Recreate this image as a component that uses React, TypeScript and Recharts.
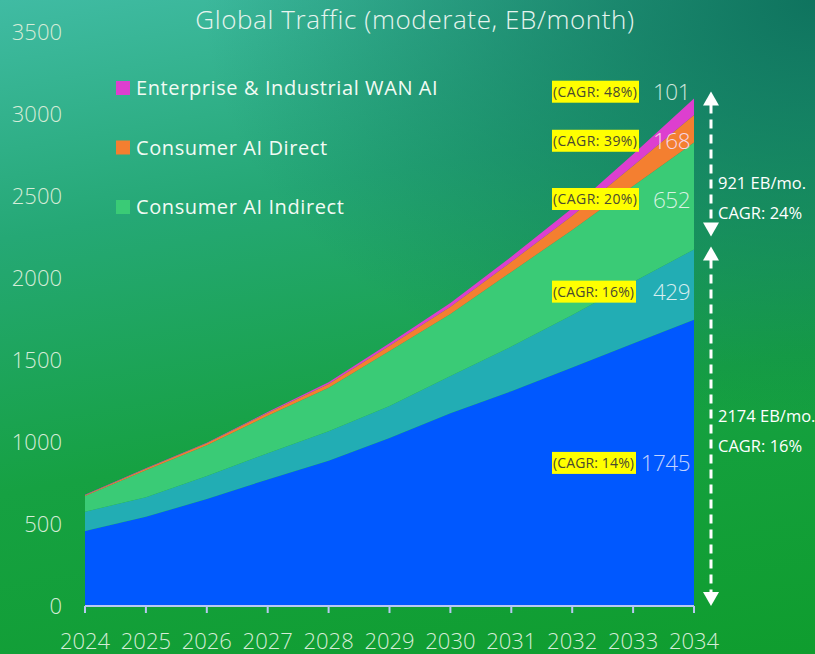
import React from 'react';
import { AreaChart, Area, XAxis, YAxis, ReferenceDot, ReferenceLine } from 'recharts';

const years = ['2024', '2025', '2026', '2027', '2028', '2029', '2030', '2031', '2032', '2033', '2034'];
const nonAiBase = [457, 544, 652, 772, 886, 1024, 1176, 1310, 1455, 1600, 1745];
const nonAiOther = [118, 119, 141, 160, 180, 196, 226, 272, 320, 375, 429];
const consumerAiIndirect = [96, 165, 187, 228, 265, 335, 378, 455, 518, 586, 652];
const consumerAiDirect = [5, 9, 12, 17, 23, 32, 45, 62, 87, 123, 168];
const enterpriseWanAi = [2, 3, 4, 6, 10, 15, 22, 31, 45, 70, 101];
const yTicks = [0, 500, 1000, 1500, 2000, 2500, 3000, 3500];
const cagrLabels = ['48%', '39%', '20%', '16%', '14%'];
const aiCagr = '24%';
const nonAiCagr = '16%';

const FONT = '"Open Sans", "Noto Sans", sans-serif';

const data = years.map((y, i) => ({
  year: y,
  base: nonAiBase[i],
  other: nonAiOther[i],
  indirect: consumerAiIndirect[i],
  direct: consumerAiDirect[i],
  wan: enterpriseWanAi[i],
}));

const colors = {
  base: '#0058ff',
  other: '#22adb4',
  indirect: '#3acb76',
  direct: '#f47f30',
  wan: '#dd3fcf',
};

const last = years.length - 1;
const lastYear = years[last];
const bands = [
  { key: 'wan', lo: nonAiBase[last] + nonAiOther[last] + consumerAiIndirect[last] + consumerAiDirect[last], val: enterpriseWanAi[last], off: -15, numColor: '#cfe6dc', boxW: 87 },
  { key: 'direct', lo: nonAiBase[last] + nonAiOther[last] + consumerAiIndirect[last], val: consumerAiDirect[last], off: 12, numColor: '#f6d6e6', boxW: 87 },
  { key: 'indirect', lo: nonAiBase[last] + nonAiOther[last], val: consumerAiIndirect[last], off: 3, numColor: '#d8f2e2', boxW: 87 },
  { key: 'other', lo: nonAiBase[last], val: nonAiOther[last], off: 7, numColor: '#d8eef0', boxW: 84 },
  { key: 'base', lo: 0, val: nonAiBase[last], off: 0, numColor: '#c4d4ff', boxW: 84 },
];

const aiTotal = consumerAiIndirect[last] + consumerAiDirect[last] + enterpriseWanAi[last];
const nonAiTotal = nonAiBase[last] + nonAiOther[last];
const grandTotal = aiTotal + nonAiTotal;

const makeLabelShape = (cagr: string, value: number, off: number, numColor: string, boxW: number) => (props: any) => {
  const cx = props.cx;
  const cy = props.cy + off;
  return (
    <g>
      <rect x={cx - 142} y={cy - 11} width={boxW} height={22} fill="#ffff00" />
      <text x={cx - 141} y={cy + 5} fontSize={14} fill="#4a4a30" fontFamily={FONT} textLength={boxW - 3} lengthAdjust="spacing">
        {`(CAGR: ${cagr})`}
      </text>
      <text x={cx - 4} y={cy + 8.5} textAnchor="end" fontSize={22.5} fontWeight={300} letterSpacing={-0.5} fill={numColor} fontFamily={FONT}>
        {value}
      </text>
    </g>
  );
};

const Arrow = (props: any, topPad: number, botPad: number, l1: string, l2: string, t1: number, t2: number) => {
  const x = props.x1 + 17;
  const yTop = Math.min(props.y1, props.y2) - topPad;
  const yBot = Math.max(props.y1, props.y2) - botPad;
  const mid = (yTop + yBot) / 2;
  return (
    <g>
      <line x1={x} y1={yTop + 13} x2={x} y2={yBot - 13} stroke="#ffffff" strokeWidth={3} strokeDasharray="9 6" />
      <polygon points={`${x},${yTop} ${x - 8},${yTop + 14} ${x + 8},${yTop + 14}`} fill="#ffffff" />
      <polygon points={`${x},${yBot} ${x - 8},${yBot - 14} ${x + 8},${yBot - 14}`} fill="#ffffff" />
      <text x={x + 7} y={mid + t1 + 6} fontSize={16.5} fill="#ffffff" fontFamily={FONT}>{l1}</text>
      <text x={x + 7} y={mid + t2 + 6} fontSize={16.5} fill="#ffffff" fontFamily={FONT}>{l2}</text>
    </g>
  );
};

const legendItems = [
  { name: 'Enterprise & Industrial WAN AI', color: colors.wan },
  { name: 'Consumer AI Direct', color: colors.direct },
  { name: 'Consumer AI Indirect', color: colors.indirect },
];

export default function App() {
  return (
    <div
      style={{
        position: 'absolute',
        left: 0,
        top: 0,
        width: 815,
        height: 654,
        overflow: 'hidden',
        background:
          'radial-gradient(ellipse 75% 65% at 100% 0%, rgba(13,112,92,0.95) 0%, rgba(13,112,92,0) 100%), linear-gradient(170deg, #40bba3 0%, #25a875 30%, #16a142 62%, #0f9d2e 100%)',
      }}
    >
      <AreaChart
        width={815}
        height={654}
        data={data}
        margin={{ top: 32, right: 121, bottom: 0, left: 0 }}
        style={{ position: 'absolute', left: 0, top: 0 }}
      >
        <XAxis
          dataKey="year"
          height={48}
          interval={0}
          tickSize={7}
          tickMargin={20}
          axisLine={{ stroke: '#b9c8f2', strokeWidth: 2 }}
          tickLine={{ stroke: '#b9c8f2', strokeWidth: 2 }}
          tick={{ fill: '#d6ecd8', fontSize: 22, fontFamily: FONT, fontWeight: 300 }}
        />
        <YAxis
          width={85}
          domain={[0, 3500]}
          ticks={yTicks}
          interval={0}
          axisLine={false}
          tickLine={false}
          tickSize={0}
          tickMargin={23}
          tick={{ fill: '#d6ecd8', fontSize: 22, fontFamily: FONT, fontWeight: 300 }}
        />
        <Area type="linear" dataKey="base" stackId="s" stroke="none" fill={colors.base} fillOpacity={1} isAnimationActive={false} name="Non-AI base" />
        <Area type="linear" dataKey="other" stackId="s" stroke="none" fill={colors.other} fillOpacity={1} isAnimationActive={false} name="Non-AI other" />
        <Area type="linear" dataKey="indirect" stackId="s" stroke="none" fill={colors.indirect} fillOpacity={1} isAnimationActive={false} name="Consumer AI Indirect" />
        <Area type="linear" dataKey="direct" stackId="s" stroke="none" fill={colors.direct} fillOpacity={1} isAnimationActive={false} name="Consumer AI Direct" />
        <Area type="linear" dataKey="wan" stackId="s" stroke="none" fill={colors.wan} fillOpacity={1} isAnimationActive={false} name="Enterprise & Industrial WAN AI" />
        {bands.map((b, i) => (
          <ReferenceDot
            key={b.key}
            x={lastYear}
            y={b.lo + b.val / 2}
            ifOverflow="visible"
            shape={makeLabelShape(cagrLabels[i], b.val, b.off, b.numColor, b.boxW)}
          />
        ))}
        <ReferenceLine
          segment={[{ x: lastYear, y: grandTotal }, { x: lastYear, y: nonAiTotal }]}
          ifOverflow="visible"
          shape={(p: any) => Arrow(p, 7, 13, `${aiTotal} EB/mo.`, `CAGR: ${aiCagr}`, 19, 49)}
        />
        <ReferenceLine
          segment={[{ x: lastYear, y: nonAiTotal }, { x: lastYear, y: 0 }]}
          ifOverflow="visible"
          shape={(p: any) => Arrow(p, 3, 0, `${nonAiTotal} EB/mo.`, `CAGR: ${nonAiCagr}`, -10, 20)}
        />
      </AreaChart>
      <svg width={815} height={654} style={{ position: 'absolute', left: 0, top: 0, pointerEvents: 'none' }}>
        <text x={415} y={29} textAnchor="middle" fontSize={26} fontWeight={300} letterSpacing={0.6} fill="#e6f4ef" fontFamily={FONT}>
          Global Traffic (moderate, EB/month)
        </text>
        {legendItems.map((it, i) => (
          <g key={it.name}>
            <rect x={116} y={81 + i * 59.5} width={14} height={14} fill={it.color} />
            <text x={136} y={95 + i * 59.5} fontSize={20} letterSpacing={0.6} fill="#f2fbf4" fontFamily={FONT}>
              {it.name}
            </text>
          </g>
        ))}
      </svg>
    </div>
  );
}
